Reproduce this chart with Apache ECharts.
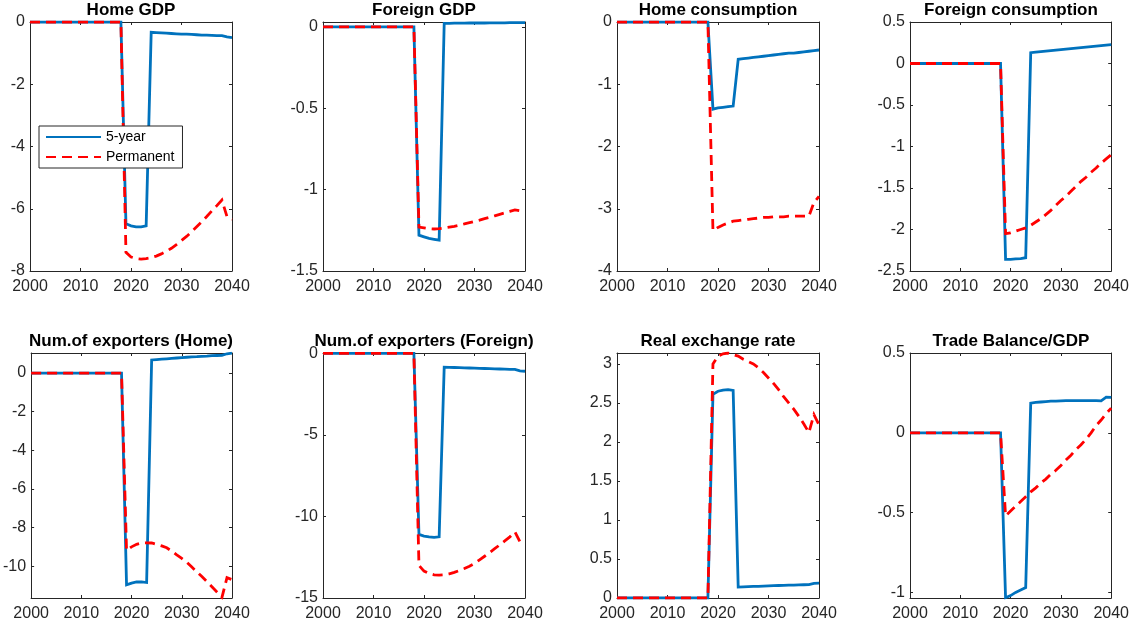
<!DOCTYPE html>
<html>
<head>
<meta charset="utf-8">
<title>Impulse responses</title>
<script src="https://cdn.jsdelivr.net/npm/echarts@6/dist/echarts.min.js"></script>
<style>
  html, body { margin: 0; padding: 0; background: #fff; }
  #chart { width: 1132px; height: 622px; }
</style>
</head>
<body>
<div id="chart"></div>
<script>
// Years on the horizontal axis
const years = [2000, 2001, 2002, 2003, 2004, 2005, 2006, 2007, 2008, 2009,
  2010, 2011, 2012, 2013, 2014, 2015, 2016, 2017, 2018, 2019,
  2020, 2021, 2022, 2023, 2024, 2025, 2026, 2027, 2028, 2029,
  2030, 2031, 2032, 2033, 2034, 2035, 2036, 2037, 2038, 2039, 2040];

const seriesNames = ['5-year', 'Permanent'];

const panelTitles = ['Home GDP', 'Foreign GDP', 'Home consumption', 'Foreign consumption',
  'Num.of exporters (Home)', 'Num.of exporters (Foreign)', 'Real exchange rate', 'Trade Balance/GDP'];

// Responses, 2000..2040 (zero before the 2019 shock)
const homeGdp5y = [0, 0, 0, 0, 0, 0, 0, 0, 0, 0, 0, 0, 0, 0, 0, 0, 0, 0, 0,
  -6.48, -6.55, -6.58, -6.58, -6.55, -0.33, -0.34, -0.35, -0.36, -0.37, -0.38,
  -0.39, -0.39, -0.40, -0.41, -0.42, -0.42, -0.43, -0.44, -0.44, -0.48, -0.50];
const homeGdpPerm = [0, 0, 0, 0, 0, 0, 0, 0, 0, 0, 0, 0, 0, 0, 0, 0, 0, 0, 0,
  -7.40, -7.55, -7.60, -7.62, -7.60, -7.57, -7.52, -7.45, -7.37, -7.27, -7.15,
  -7.02, -6.89, -6.74, -6.58, -6.42, -6.25, -6.07, -5.90, -5.72, -6.25, -6.35];

const foreignGdp5y = [0, 0, 0, 0, 0, 0, 0, 0, 0, 0, 0, 0, 0, 0, 0, 0, 0, 0, 0,
  -1.280, -1.290, -1.300, -1.305, -1.310, 0.022, 0.022, 0.023, 0.023, 0.023, 0.024,
  0.024, 0.024, 0.024, 0.025, 0.025, 0.025, 0.025, 0.026, 0.026, 0.026, 0.026];
const foreignGdpPerm = [0, 0, 0, 0, 0, 0, 0, 0, 0, 0, 0, 0, 0, 0, 0, 0, 0, 0, 0,
  -1.230, -1.235, -1.240, -1.242, -1.240, -1.236, -1.231, -1.226, -1.219, -1.211, -1.203,
  -1.195, -1.187, -1.178, -1.170, -1.161, -1.152, -1.143, -1.134, -1.125, -1.130, -1.125];

const homeCons5y = [0, 0, 0, 0, 0, 0, 0, 0, 0, 0, 0, 0, 0, 0, 0, 0, 0, 0, 0,
  -1.40, -1.38, -1.37, -1.36, -1.35, -0.60, -0.59, -0.58, -0.57, -0.56, -0.55,
  -0.54, -0.53, -0.52, -0.51, -0.50, -0.50, -0.49, -0.48, -0.47, -0.46, -0.45];
const homeConsPerm = [0, 0, 0, 0, 0, 0, 0, 0, 0, 0, 0, 0, 0, 0, 0, 0, 0, 0, 0,
  -3.35, -3.30, -3.26, -3.23, -3.20, -3.19, -3.18, -3.17, -3.16, -3.15, -3.14,
  -3.14, -3.13, -3.13, -3.13, -3.12, -3.12, -3.12, -3.12, -3.12, -2.90, -2.80];

const foreignCons5y = [0, 0, 0, 0, 0, 0, 0, 0, 0, 0, 0, 0, 0, 0, 0, 0, 0, 0, 0,
  -2.36, -2.36, -2.355, -2.35, -2.34, 0.13, 0.137, 0.143, 0.149, 0.155, 0.161,
  0.167, 0.173, 0.179, 0.185, 0.191, 0.197, 0.203, 0.209, 0.215, 0.222, 0.228];
const foreignConsPerm = [0, 0, 0, 0, 0, 0, 0, 0, 0, 0, 0, 0, 0, 0, 0, 0, 0, 0, 0,
  -2.05, -2.04, -2.02, -2.00, -1.98, -1.95, -1.91, -1.87, -1.82, -1.77, -1.71,
  -1.65, -1.60, -1.54, -1.48, -1.42, -1.37, -1.31, -1.26, -1.20, -1.15, -1.10];

const exportersHome5y = [0, 0, 0, 0, 0, 0, 0, 0, 0, 0, 0, 0, 0, 0, 0, 0, 0, 0, 0,
  -10.97, -10.88, -10.82, -10.82, -10.85, 0.68, 0.70, 0.72, 0.74, 0.76, 0.78,
  0.80, 0.82, 0.84, 0.85, 0.87, 0.88, 0.90, 0.91, 0.92, 1.00, 1.03];
const exportersHomePerm = [0, 0, 0, 0, 0, 0, 0, 0, 0, 0, 0, 0, 0, 0, 0, 0, 0, 0, 0,
  -9.18, -9.00, -8.87, -8.80, -8.79, -8.80, -8.87, -8.95, -9.05, -9.22, -9.42,
  -9.60, -9.80, -10.05, -10.30, -10.54, -10.80, -11.07, -11.34, -11.62, -10.60, -10.70];

const exportersForeign5y = [0, 0, 0, 0, 0, 0, 0, 0, 0, 0, 0, 0, 0, 0, 0, 0, 0, 0, 0,
  -11.10, -11.20, -11.25, -11.28, -11.25, -0.85, -0.86, -0.87, -0.88, -0.89, -0.90,
  -0.91, -0.92, -0.93, -0.94, -0.95, -0.96, -0.97, -0.98, -0.99, -1.08, -1.10];
const exportersForeignPerm = [0, 0, 0, 0, 0, 0, 0, 0, 0, 0, 0, 0, 0, 0, 0, 0, 0, 0, 0,
  -13.00, -13.35, -13.50, -13.58, -13.60, -13.58, -13.52, -13.43, -13.32, -13.19, -13.05,
  -12.88, -12.66, -12.44, -12.21, -11.98, -11.74, -11.50, -11.25, -10.95, -11.55, -11.45];

const rer5y = [0, 0, 0, 0, 0, 0, 0, 0, 0, 0, 0, 0, 0, 0, 0, 0, 0, 0, 0,
  2.61, 2.65, 2.665, 2.67, 2.66, 0.14, 0.142, 0.145, 0.148, 0.150, 0.153,
  0.155, 0.158, 0.160, 0.162, 0.164, 0.166, 0.168, 0.170, 0.172, 0.188, 0.190];
const rerPerm = [0, 0, 0, 0, 0, 0, 0, 0, 0, 0, 0, 0, 0, 0, 0, 0, 0, 0, 0,
  3.00, 3.10, 3.13, 3.14, 3.12, 3.10, 3.06, 3.03, 3.00, 2.95, 2.89,
  2.82, 2.75, 2.67, 2.58, 2.50, 2.42, 2.33, 2.23, 2.12, 2.35, 2.22];

const tradeBal5y = [0, 0, 0, 0, 0, 0, 0, 0, 0, 0, 0, 0, 0, 0, 0, 0, 0, 0, 0,
  -1.033, -1.020, -1.000, -0.985, -0.970, 0.186, 0.190, 0.193, 0.196, 0.198, 0.199,
  0.200, 0.201, 0.201, 0.202, 0.202, 0.202, 0.202, 0.201, 0.200, 0.223, 0.222];
const tradeBalPerm = [0, 0, 0, 0, 0, 0, 0, 0, 0, 0, 0, 0, 0, 0, 0, 0, 0, 0, 0,
  -0.52, -0.49, -0.46, -0.43, -0.40, -0.37, -0.345, -0.315, -0.29, -0.26, -0.235,
  -0.205, -0.17, -0.14, -0.105, -0.075, -0.04, 0.00, 0.045, 0.08, 0.12, 0.155];

// Y tick values per panel
const yTicks = [
  [-8, -6, -4, -2, 0],
  [-1.5, -1, -0.5, 0],
  [-4, -3, -2, -1, 0],
  [-2.5, -2, -1.5, -1, -0.5, 0, 0.5],
  [-10, -8, -6, -4, -2, 0],
  [-15, -10, -5, 0],
  [0, 0.5, 1, 1.5, 2, 2.5, 3],
  [-1, -0.5, 0, 0.5]
];

const panels = [
  { five: homeGdp5y, perm: homeGdpPerm, min: -8, max: 0 },
  { five: foreignGdp5y, perm: foreignGdpPerm, min: -1.5, max: 0.03 },
  { five: homeCons5y, perm: homeConsPerm, min: -4, max: 0 },
  { five: foreignCons5y, perm: foreignConsPerm, min: -2.5, max: 0.5 },
  { five: exportersHome5y, perm: exportersHomePerm, min: -11.65, max: 1.04 },
  { five: exportersForeign5y, perm: exportersForeignPerm, min: -15, max: 0.02 },
  { five: rer5y, perm: rerPerm, min: 0, max: 3.14 },
  { five: tradeBal5y, perm: tradeBalPerm, min: -1.035, max: 0.5 }
];

// Layout of the 2x4 grid of axes (pixels)
const colLeft = [30, 323, 617, 910];
const plotW = 202;
const rowTop = [22, 353];
const rowH = [249, 248];
const titleTop = [2, 333];

const ink = '#262626';
const font = 'Liberation Sans, Arial, Helvetica, sans-serif';

const grids = [], xAxes = [], yAxes = [], series = [], titles = [];

panels.forEach((p, i) => {
  const r = Math.floor(i / 4), c = i % 4;
  grids.push({ left: colLeft[c], top: rowTop[r], width: plotW, height: rowH[r],
    show: false, containLabel: false });

  const tickCommon = { inside: true, length: 3, lineStyle: { color: ink, width: 1 } };
  const lineCommon = { show: true, onZero: false, lineStyle: { color: ink, width: 1 } };

  // bottom and top x axes
  xAxes.push({ type: 'value', gridIndex: i, position: 'bottom', min: 2000, max: 2040, interval: 10,
    axisLine: lineCommon, axisTick: tickCommon, splitLine: { show: false },
    axisLabel: { color: ink, fontSize: 16, fontFamily: font, margin: 8,
      formatter: v => String(v) } });
  xAxes.push({ type: 'value', gridIndex: i, position: 'top', min: 2000, max: 2040, interval: 10,
    axisLine: lineCommon, axisTick: tickCommon, splitLine: { show: false },
    axisLabel: { show: false } });

  // left and right y axes
  yAxes.push({ type: 'value', gridIndex: i, position: 'left', min: p.min, max: p.max,
    axisLine: lineCommon, splitLine: { show: false },
    axisTick: Object.assign({ customValues: yTicks[i] }, tickCommon),
    axisLabel: { customValues: yTicks[i], color: ink, fontSize: 16, fontFamily: font, margin: 5,
      formatter: v => String(v) } });
  yAxes.push({ type: 'value', gridIndex: i, position: 'right', min: p.min, max: p.max,
    axisLine: lineCommon, splitLine: { show: false },
    axisTick: Object.assign({ customValues: yTicks[i] }, tickCommon),
    axisLabel: { show: false } });

  series.push({
    name: seriesNames[0], type: 'line', xAxisIndex: 2 * i, yAxisIndex: 2 * i,
    data: years.map((y, k) => [y, p.five[k]]),
    symbol: 'none', clip: true, animation: false,
    lineStyle: { color: '#0072BD', width: 2.8, cap: 'butt', join: 'miter' },
    itemStyle: { color: '#0072BD' }
  });
  series.push({
    name: seriesNames[1], type: 'line', xAxisIndex: 2 * i, yAxisIndex: 2 * i,
    data: years.map((y, k) => [y, p.perm[k]]),
    symbol: 'none', clip: true, animation: false,
    lineStyle: { color: '#FF0000', width: 2.8, type: [10, 6], cap: 'butt', join: 'miter' },
    itemStyle: { color: '#FF0000' }
  });

  titles.push({ text: panelTitles[i], left: colLeft[c] + plotW / 2, top: titleTop[r],
    textAlign: 'center', padding: 0,
    textStyle: { fontSize: 17, fontWeight: 'bold', color: '#000', fontFamily: font } });
});

const chart = echarts.init(document.getElementById('chart'), null, { renderer: 'canvas' });
chart.setOption({
  backgroundColor: '#fff',
  animation: false,
  title: titles,
  grid: grids,
  xAxis: xAxes,
  yAxis: yAxes,
  series: series,
  legend: {
    data: seriesNames, orient: 'vertical', left: 39, top: 126,
    padding: [4, 8, 4, 6], itemGap: 6, itemWidth: 55, itemHeight: 14,
    backgroundColor: '#fff', borderColor: ink, borderWidth: 1,
    selectedMode: false,
    // line-only key: hide the marker drawn in the middle of each key line
    itemStyle: { color: 'transparent', borderWidth: 0, opacity: 0 },
    textStyle: { fontSize: 14, color: '#000', fontFamily: font }
  }
});
</script>
</body>
</html>
